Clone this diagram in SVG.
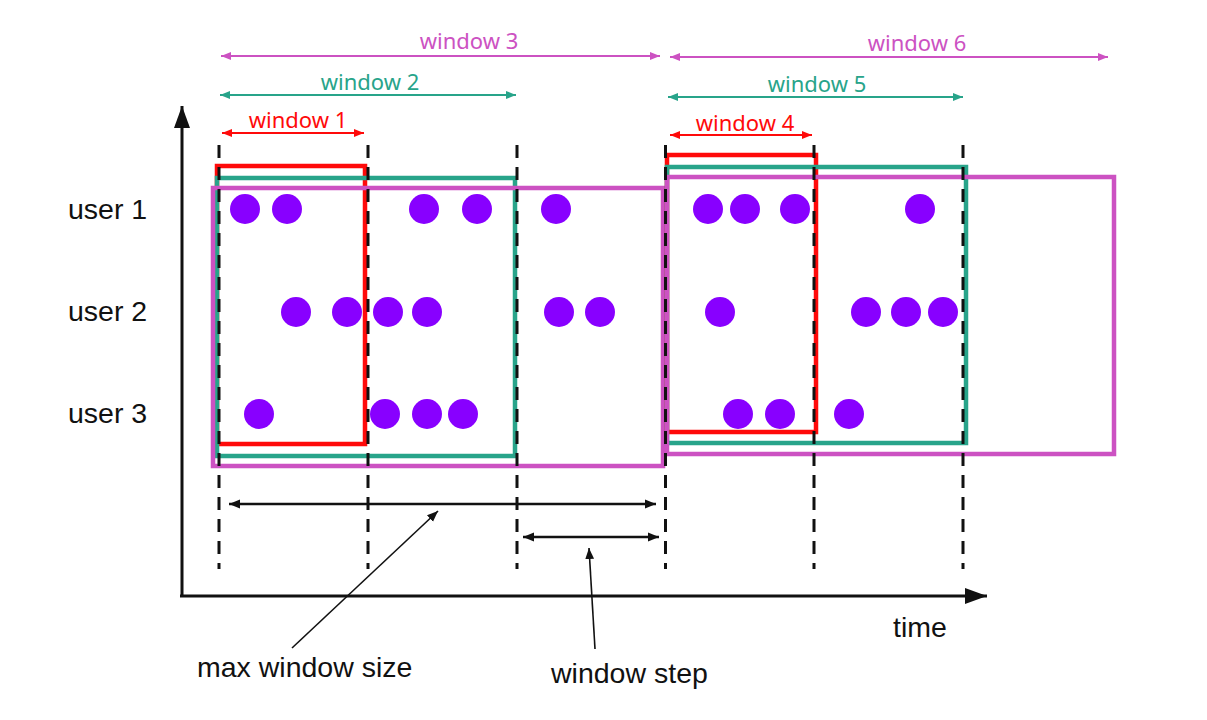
<svg xmlns="http://www.w3.org/2000/svg" width="1207" height="720" viewBox="0 0 1207 720">
<style>
.lbl{font-family:"Liberation Sans",Arial,sans-serif;font-size:28.5px;fill:#111}
.wl{font-family:"Noto Sans","Open Sans",sans-serif;font-size:22px;text-anchor:middle}
.dash{stroke:#111;stroke-width:3;stroke-dasharray:13 9;fill:none}
.dot{fill:#8800FF}
.red{stroke:#FF0A0A}
.teal{stroke:#28A48A}
.mag{stroke:#CC52C2}
.box{fill:none;stroke-width:4.5}
.warr{stroke-width:2.2;fill:none}
</style>
<defs>
<marker id="ar" viewBox="0 0 10 10" refX="10" refY="5" markerWidth="10" markerHeight="10" markerUnits="userSpaceOnUse" orient="auto-start-reverse"><path d="M0,1 L10,5 L0,9 Z" fill="#FF0A0A"/></marker>
<marker id="at" viewBox="0 0 10 10" refX="10" refY="5" markerWidth="10" markerHeight="10" markerUnits="userSpaceOnUse" orient="auto-start-reverse"><path d="M0,1 L10,5 L0,9 Z" fill="#28A48A"/></marker>
<marker id="am" viewBox="0 0 10 10" refX="10" refY="5" markerWidth="10" markerHeight="10" markerUnits="userSpaceOnUse" orient="auto-start-reverse"><path d="M0,1 L10,5 L0,9 Z" fill="#CC52C2"/></marker>
<marker id="ak" viewBox="0 0 10 10" refX="10" refY="5" markerWidth="11" markerHeight="11" markerUnits="userSpaceOnUse" orient="auto-start-reverse"><path d="M0,1 L10,5 L0,9 Z" fill="#111"/></marker>
<marker id="axk" viewBox="0 0 10 10" refX="10" refY="5" markerWidth="22" markerHeight="16" markerUnits="userSpaceOnUse" orient="auto" preserveAspectRatio="none"><path d="M0,0 L10,5 L0,10 Z" fill="#111"/></marker>
</defs>
<rect width="1207" height="720" fill="#fff"/>

<g id="axes">
<line x1="182" y1="597" x2="182" y2="106" stroke="#111" stroke-width="3" marker-end="url(#axk)"/>
<line x1="180" y1="596" x2="987" y2="596" stroke="#111" stroke-width="3" marker-end="url(#axk)"/>
<text class="lbl" x="893" y="637">time</text>
</g>

<g id="user-labels">
<text class="lbl" x="68" y="219">user 1</text>
<text class="lbl" x="68" y="321">user 2</text>
<text class="lbl" x="68" y="423">user 3</text>
</g>

<g id="window1"><rect class="box red" x="217" y="166" width="148" height="278"/></g>
<g id="window2"><rect class="box teal" x="217" y="178" width="298" height="278"/></g>
<g id="window3"><rect class="box mag" x="213" y="188" width="450" height="278"/></g>
<g id="window4"><rect class="box red" x="667" y="155" width="149" height="277"/></g>
<g id="window5"><rect class="box teal" x="667" y="167" width="299" height="276"/></g>
<g id="window6"><rect class="box mag" x="667" y="177" width="447" height="277"/></g>

<g id="dashed-lines">
<line class="dash" x1="219" y1="145" x2="219" y2="569"/>
<line class="dash" x1="368" y1="145" x2="368" y2="569"/>
<line class="dash" x1="517" y1="145" x2="517" y2="569"/>
<line class="dash" x1="665.5" y1="145" x2="665.5" y2="569"/>
<line class="dash" x1="814" y1="145" x2="814" y2="569"/>
<line class="dash" x1="963" y1="145" x2="963" y2="569"/>
</g>

<g id="dots">
<circle class="dot" cx="245" cy="209" r="15"/>
<circle class="dot" cx="287" cy="209" r="15"/>
<circle class="dot" cx="424" cy="209" r="15"/>
<circle class="dot" cx="477" cy="209" r="15"/>
<circle class="dot" cx="556" cy="209" r="15"/>
<circle class="dot" cx="708" cy="209" r="15"/>
<circle class="dot" cx="745" cy="209" r="15"/>
<circle class="dot" cx="795" cy="209" r="15"/>
<circle class="dot" cx="920" cy="209" r="15"/>
<circle class="dot" cx="296" cy="312" r="15"/>
<circle class="dot" cx="347" cy="312" r="15"/>
<circle class="dot" cx="388" cy="312" r="15"/>
<circle class="dot" cx="427" cy="312" r="15"/>
<circle class="dot" cx="559" cy="312" r="15"/>
<circle class="dot" cx="600" cy="312" r="15"/>
<circle class="dot" cx="720" cy="312" r="15"/>
<circle class="dot" cx="866" cy="312" r="15"/>
<circle class="dot" cx="906" cy="312" r="15"/>
<circle class="dot" cx="943" cy="312" r="15"/>
<circle class="dot" cx="259" cy="414" r="15"/>
<circle class="dot" cx="385" cy="414" r="15"/>
<circle class="dot" cx="427" cy="414" r="15"/>
<circle class="dot" cx="463" cy="414" r="15"/>
<circle class="dot" cx="738" cy="414" r="15"/>
<circle class="dot" cx="780" cy="414" r="15"/>
<circle class="dot" cx="849" cy="414" r="15"/>
</g>

<g id="connectors">
<line class="warr red" x1="222" y1="133" x2="364" y2="133" marker-start="url(#ar)" marker-end="url(#ar)"/>
<line class="warr teal" x1="220" y1="95" x2="516" y2="95" marker-start="url(#at)" marker-end="url(#at)"/>
<line class="warr mag" x1="221" y1="56" x2="660" y2="56" marker-start="url(#am)" marker-end="url(#am)"/>
<line class="warr red" x1="670" y1="135" x2="812" y2="135" marker-start="url(#ar)" marker-end="url(#ar)"/>
<line class="warr teal" x1="668" y1="97" x2="963" y2="97" marker-start="url(#at)" marker-end="url(#at)"/>
<line class="warr mag" x1="670" y1="57" x2="1108" y2="57" marker-start="url(#am)" marker-end="url(#am)"/>
<line x1="229" y1="504" x2="656" y2="504" stroke="#111" stroke-width="2.5" marker-start="url(#ak)" marker-end="url(#ak)"/>
<line x1="523" y1="537" x2="659" y2="537" stroke="#111" stroke-width="2.5" marker-start="url(#ak)" marker-end="url(#ak)"/>
<line x1="292" y1="648" x2="438" y2="511" stroke="#111" stroke-width="1.6" marker-end="url(#ak)"/>
<line x1="595" y1="649" x2="589" y2="548" stroke="#111" stroke-width="1.6" marker-end="url(#ak)"/>
</g>

<g id="window-labels">
<text class="wl" x="298" y="128" fill="#FF0A0A">window 1</text>
<text class="wl" x="370" y="90" fill="#28A48A">window 2</text>
<text class="wl" x="469" y="49" fill="#CC52C2">window 3</text>
<text class="wl" x="745" y="131" fill="#FF0A0A">window 4</text>
<text class="wl" x="817" y="92" fill="#28A48A">window 5</text>
<text class="wl" x="917" y="51" fill="#CC52C2">window 6</text>
</g>

<g id="annotations">
<text class="lbl" x="197" y="677">max window size</text>
<text class="lbl" x="551" y="683">window step</text>
</g>
</svg>
